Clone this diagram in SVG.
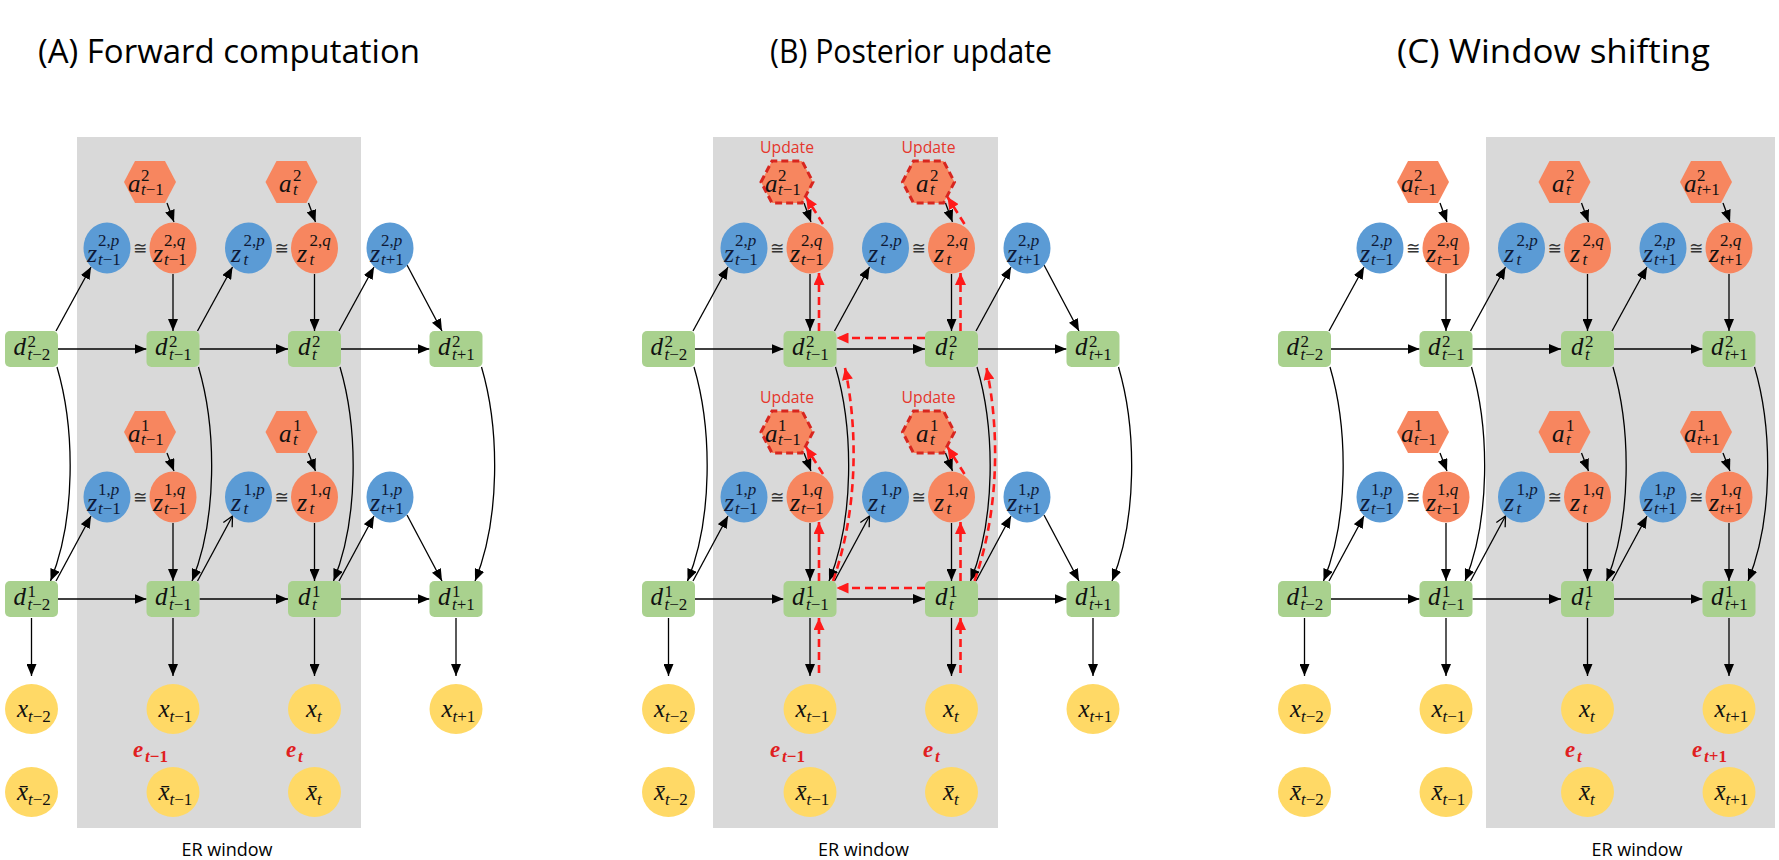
<svg xmlns="http://www.w3.org/2000/svg" xmlns:xlink="http://www.w3.org/1999/xlink" width="1779" height="860" viewBox="0 0 1779 860">
<style>
.gw{fill:#d9d9d9}
.dn{fill:#a9d18e}
.zp{fill:#5b9bd5}
.or{fill:#f7865f}
.xn{fill:#ffd966}
.hd{fill:#f7865f;stroke:#d8261f;stroke-width:3;stroke-dasharray:7 4}
.ln{stroke:#000;stroke-width:1.3;fill:none;marker-end:url(#ah)}
.lo{stroke:#000;stroke-width:1.3;fill:none;marker-end:url(#ao)}
.rd{stroke:#ff1a1a;stroke-width:2.6;stroke-dasharray:8 5;fill:none;marker-end:url(#ar)}
.t{font-family:"Liberation Serif",serif;font-style:italic;font-size:25px;fill:#111}
.zt{font-size:26px}
.zb{fill:#0e1a38}
.s{font-size:17px}
.u{font-style:normal}
.eq{font-family:"DejaVu Sans",sans-serif;font-size:17px;fill:#333;text-anchor:middle}
.ti{font-family:"Open Sans",sans-serif;font-size:33px;fill:#000}
.er{font-family:"Open Sans",sans-serif;font-size:18px;fill:#000;text-anchor:middle}
.up{font-family:"Open Sans",sans-serif;font-size:17px;fill:#e5362c;text-anchor:middle}
.e{font-family:"Liberation Serif",serif;font-style:italic;font-weight:bold;font-size:23px;fill:#e0201f}
</style>
<defs>
<marker id="ah" viewBox="0 0 12 10" refX="12" refY="5" markerWidth="12" markerHeight="10" markerUnits="userSpaceOnUse" orient="auto"><path d="M0,0 L12,5 L0,10 z" fill="#000"/></marker>
<marker id="ao" viewBox="0 0 12 12" refX="11" refY="6" markerWidth="12" markerHeight="12" markerUnits="userSpaceOnUse" orient="auto"><path d="M1,1 L11,6 L1,11" fill="none" stroke="#000" stroke-width="1.3"/></marker>
<marker id="ar" viewBox="0 0 12 11" refX="12" refY="5.5" markerWidth="12" markerHeight="11" markerUnits="userSpaceOnUse" orient="auto"><path d="M0,0 L12,5.5 L0,11 z" fill="#ff1a1a"/></marker>
<polygon id="hex" points="-26,0 -15,-21 15,-21 26,0 15,21 -15,21"/>
</defs>
<rect width="1779" height="860" fill="#fff"/>

<!-- ================= PANEL A ================= -->
<g id="panelA">
<rect class="gw" x="77" y="137" width="284" height="691"/>
<text class="ti" x="38" y="63" textLength="382" lengthAdjust="spacingAndGlyphs">(A) Forward computation</text>
<text class="er" x="227" y="856" textLength="91" lengthAdjust="spacingAndGlyphs">ER window</text>
<g id="A-connectors">
<line class="ln" x1="167" y1="203" x2="174" y2="222"/>
<line class="ln" x1="308.5" y1="203" x2="315.5" y2="222"/>
<line class="ln" x1="173" y1="274" x2="173" y2="331"/>
<line class="ln" x1="314.5" y1="274" x2="314.5" y2="331"/>
<line class="ln" x1="56" y1="331" x2="91" y2="267"/>
<line class="ln" x1="197.5" y1="331" x2="232.5" y2="267"/>
<line class="ln" x1="339" y1="331" x2="374" y2="267"/>
<line class="ln" x1="407" y1="265" x2="442" y2="331"/>
<line class="ln" x1="58" y1="349" x2="146.5" y2="349"/>
<line class="ln" x1="199.5" y1="349" x2="288" y2="349"/>
<line class="ln" x1="341" y1="349" x2="429.5" y2="349"/>
<path class="ln" d="M57,367 C75.5,430 75.5,520 50.5,581"/>
<path class="ln" d="M198.5,367 C217,430 217,520 192,581"/>
<path class="ln" d="M340,367 C358.5,430 358.5,520 333.5,581"/>
<path class="ln" d="M481.5,367 C500,430 500,520 475,581"/>
<line class="ln" x1="167" y1="453" x2="174" y2="471"/>
<line class="ln" x1="308.5" y1="453" x2="315.5" y2="471"/>
<line class="ln" x1="173" y1="523" x2="173" y2="581"/>
<line class="ln" x1="314.5" y1="523" x2="314.5" y2="581"/>
<line class="ln" x1="56" y1="581" x2="91" y2="516"/>
<line class="lo" x1="197.5" y1="581" x2="232.5" y2="516"/>
<line class="ln" x1="339" y1="581" x2="374" y2="516"/>
<line class="ln" x1="407" y1="515" x2="442" y2="581"/>
<line class="ln" x1="58" y1="599" x2="146.5" y2="599"/>
<line class="ln" x1="199.5" y1="599" x2="288" y2="599"/>
<line class="ln" x1="341" y1="599" x2="429.5" y2="599"/>
<line class="ln" x1="31.5" y1="618" x2="31.5" y2="676"/>
<line class="ln" x1="173" y1="618" x2="173" y2="676"/>
<line class="ln" x1="314.5" y1="618" x2="314.5" y2="676"/>
<line class="ln" x1="456" y1="618" x2="456" y2="676"/>
</g>
<g id="A-a2-tm1"><use href="#hex" x="150" y="182" class="or"/><text class="t" x="128" y="192">a<tspan class="s u" x="141" y="181">2</tspan><tspan class="s" x="141" y="195">t<tspan class="u">−1</tspan></tspan></text></g>
<g id="A-a2-t"><use href="#hex" x="291.5" y="182" class="or"/><text class="t" x="279" y="192">a<tspan class="s u" x="293" y="181">2</tspan><tspan class="s" x="293" y="195">t</tspan></text></g>
<g id="A-z2p-tm1"><ellipse class="zp" cx="107" cy="248" rx="23.5" ry="25.5"/><text class="t zt zb" x="87" y="262">z<tspan class="s u" x="98" y="246">2,<tspan font-style="italic">p</tspan></tspan><tspan class="s" x="98" y="265">t<tspan class="u">−1</tspan></tspan></text></g>
<g id="A-z2q-tm1"><ellipse class="or" cx="173" cy="248" rx="23.5" ry="25.5"/><text class="t zt" x="153" y="262">z<tspan class="s u" x="164" y="246">2,<tspan font-style="italic">q</tspan></tspan><tspan class="s" x="164" y="265">t<tspan class="u">−1</tspan></tspan></text></g>
<text class="eq" x="140" y="254">≅</text>
<g id="A-z2p-t"><ellipse class="zp" cx="248.5" cy="248" rx="23.5" ry="25.5"/><text class="t zt zb" x="231" y="262">z<tspan class="s u" x="243.5" y="246">2,<tspan font-style="italic">p</tspan></tspan><tspan class="s" x="243.5" y="265">t</tspan></text></g>
<g id="A-z2q-t"><ellipse class="or" cx="314.5" cy="248" rx="23.5" ry="25.5"/><text class="t zt" x="297" y="262">z<tspan class="s u" x="309.5" y="246">2,<tspan font-style="italic">q</tspan></tspan><tspan class="s" x="309.5" y="265">t</tspan></text></g>
<text class="eq" x="281.5" y="254">≅</text>
<g id="A-z2p-tp1"><ellipse class="zp" cx="390" cy="248" rx="23.5" ry="25.5"/><text class="t zt zb" x="370" y="262">z<tspan class="s u" x="381" y="246">2,<tspan font-style="italic">p</tspan></tspan><tspan class="s" x="381" y="265">t<tspan class="u">+1</tspan></tspan></text></g>
<g id="A-d2-tm2"><rect class="dn" x="5" y="331" width="53" height="36" rx="5"/><text class="t" x="13.5" y="355">d<tspan class="s u" x="27.5" y="347">2</tspan><tspan class="s" x="27.5" y="360">t<tspan class="u">−2</tspan></tspan></text></g>
<g id="A-d2-tm1"><rect class="dn" x="146.5" y="331" width="53" height="36" rx="5"/><text class="t" x="155" y="355">d<tspan class="s u" x="169" y="347">2</tspan><tspan class="s" x="169" y="360">t<tspan class="u">−1</tspan></tspan></text></g>
<g id="A-d2-t"><rect class="dn" x="288" y="331" width="53" height="36" rx="5"/><text class="t" x="298" y="355">d<tspan class="s u" x="312" y="347">2</tspan><tspan class="s" x="312" y="360">t</tspan></text></g>
<g id="A-d2-tp1"><rect class="dn" x="429.5" y="331" width="53" height="36" rx="5"/><text class="t" x="438" y="355">d<tspan class="s u" x="452" y="347">2</tspan><tspan class="s" x="452" y="360">t<tspan class="u">+1</tspan></tspan></text></g>
<g id="A-a1-tm1"><use href="#hex" x="150" y="432" class="or"/><text class="t" x="128" y="442">a<tspan class="s u" x="141" y="431">1</tspan><tspan class="s" x="141" y="445">t<tspan class="u">−1</tspan></tspan></text></g>
<g id="A-a1-t"><use href="#hex" x="291.5" y="432" class="or"/><text class="t" x="279" y="442">a<tspan class="s u" x="293" y="431">1</tspan><tspan class="s" x="293" y="445">t</tspan></text></g>
<g id="A-z1p-tm1"><ellipse class="zp" cx="107" cy="497" rx="23.5" ry="25.5"/><text class="t zt zb" x="87" y="511">z<tspan class="s u" x="98" y="495">1,<tspan font-style="italic">p</tspan></tspan><tspan class="s" x="98" y="514">t<tspan class="u">−1</tspan></tspan></text></g>
<g id="A-z1q-tm1"><ellipse class="or" cx="173" cy="497" rx="23.5" ry="25.5"/><text class="t zt" x="153" y="511">z<tspan class="s u" x="164" y="495">1,<tspan font-style="italic">q</tspan></tspan><tspan class="s" x="164" y="514">t<tspan class="u">−1</tspan></tspan></text></g>
<text class="eq" x="140" y="503">≅</text>
<g id="A-z1p-t"><ellipse class="zp" cx="248.5" cy="497" rx="23.5" ry="25.5"/><text class="t zt zb" x="231" y="511">z<tspan class="s u" x="243.5" y="495">1,<tspan font-style="italic">p</tspan></tspan><tspan class="s" x="243.5" y="514">t</tspan></text></g>
<g id="A-z1q-t"><ellipse class="or" cx="314.5" cy="497" rx="23.5" ry="25.5"/><text class="t zt" x="297" y="511">z<tspan class="s u" x="309.5" y="495">1,<tspan font-style="italic">q</tspan></tspan><tspan class="s" x="309.5" y="514">t</tspan></text></g>
<text class="eq" x="281.5" y="503">≅</text>
<g id="A-z1p-tp1"><ellipse class="zp" cx="390" cy="497" rx="23.5" ry="25.5"/><text class="t zt zb" x="370" y="511">z<tspan class="s u" x="381" y="495">1,<tspan font-style="italic">p</tspan></tspan><tspan class="s" x="381" y="514">t<tspan class="u">+1</tspan></tspan></text></g>
<g id="A-d1-tm2"><rect class="dn" x="5" y="581" width="53" height="36" rx="5"/><text class="t" x="13.5" y="605">d<tspan class="s u" x="27.5" y="597">1</tspan><tspan class="s" x="27.5" y="610">t<tspan class="u">−2</tspan></tspan></text></g>
<g id="A-d1-tm1"><rect class="dn" x="146.5" y="581" width="53" height="36" rx="5"/><text class="t" x="155" y="605">d<tspan class="s u" x="169" y="597">1</tspan><tspan class="s" x="169" y="610">t<tspan class="u">−1</tspan></tspan></text></g>
<g id="A-d1-t"><rect class="dn" x="288" y="581" width="53" height="36" rx="5"/><text class="t" x="298" y="605">d<tspan class="s u" x="312" y="597">1</tspan><tspan class="s" x="312" y="610">t</tspan></text></g>
<g id="A-d1-tp1"><rect class="dn" x="429.5" y="581" width="53" height="36" rx="5"/><text class="t" x="438" y="605">d<tspan class="s u" x="452" y="597">1</tspan><tspan class="s" x="452" y="610">t<tspan class="u">+1</tspan></tspan></text></g>
<g id="A-x-tm2"><ellipse class="xn" cx="31.5" cy="709" rx="26.5" ry="25"/><text class="t" x="17" y="717">x<tspan class="s" x="28" y="722">t<tspan class="u">−2</tspan></tspan></text></g>
<g id="A-x-tm1"><ellipse class="xn" cx="173" cy="709" rx="26.5" ry="25"/><text class="t" x="158.5" y="717">x<tspan class="s" x="169.5" y="722">t<tspan class="u">−1</tspan></tspan></text></g>
<g id="A-x-t"><ellipse class="xn" cx="314.5" cy="709" rx="26.5" ry="25"/><text class="t" x="306" y="717">x<tspan class="s" x="317" y="722">t</tspan></text></g>
<g id="A-x-tp1"><ellipse class="xn" cx="456" cy="709" rx="26.5" ry="25"/><text class="t" x="441.5" y="717">x<tspan class="s" x="452.5" y="722">t<tspan class="u">+1</tspan></tspan></text></g>
<g id="A-xb-tm2"><ellipse class="xn" cx="31.5" cy="792" rx="26.5" ry="25"/><text class="t" x="17" y="800">x̄<tspan class="s" x="28" y="805">t<tspan class="u">−2</tspan></tspan></text></g>
<g id="A-xb-tm1"><ellipse class="xn" cx="173" cy="792" rx="26.5" ry="25"/><text class="t" x="158.5" y="800">x̄<tspan class="s" x="169.5" y="805">t<tspan class="u">−1</tspan></tspan></text></g>
<g id="A-xb-t"><ellipse class="xn" cx="314.5" cy="792" rx="26.5" ry="25"/><text class="t" x="306" y="800">x̄<tspan class="s" x="317" y="805">t</tspan></text></g>
<g id="A-e-tm1"><text class="e" x="133" y="757">e<tspan class="s" x="145" y="762">t<tspan class="u">−1</tspan></tspan></text></g>
<g id="A-e-t"><text class="e" x="286" y="757">e<tspan class="s" x="298" y="762">t</tspan></text></g>
</g>

<!-- ================= PANEL B ================= -->
<g id="panelB" transform="translate(637,0)">
<rect class="gw" x="76" y="137" width="285" height="691"/>
<text class="ti" x="133" y="63" textLength="282" lengthAdjust="spacingAndGlyphs">(B) Posterior update</text>
<text class="er" x="226.5" y="856" textLength="91" lengthAdjust="spacingAndGlyphs">ER window</text>
<g id="B-connectors">
<line class="ln" x1="167" y1="203" x2="174" y2="222"/>
<line class="ln" x1="308.5" y1="203" x2="315.5" y2="222"/>
<line class="ln" x1="173" y1="274" x2="173" y2="331"/>
<line class="ln" x1="314.5" y1="274" x2="314.5" y2="331"/>
<line class="ln" x1="56" y1="331" x2="91" y2="267"/>
<line class="ln" x1="197.5" y1="331" x2="232.5" y2="267"/>
<line class="ln" x1="339" y1="331" x2="374" y2="267"/>
<line class="ln" x1="407" y1="265" x2="442" y2="331"/>
<line class="ln" x1="58" y1="349" x2="146.5" y2="349"/>
<line class="ln" x1="199.5" y1="349" x2="288" y2="349"/>
<line class="ln" x1="341" y1="349" x2="429.5" y2="349"/>
<path class="ln" d="M57,367 C75.5,430 75.5,520 50.5,581"/>
<path class="ln" d="M198.5,367 C217,430 217,520 192,581"/>
<path class="ln" d="M340,367 C358.5,430 358.5,520 333.5,581"/>
<path class="ln" d="M481.5,367 C500,430 500,520 475,581"/>
<line class="ln" x1="167" y1="453" x2="174" y2="471"/>
<line class="ln" x1="308.5" y1="453" x2="315.5" y2="471"/>
<line class="ln" x1="173" y1="523" x2="173" y2="581"/>
<line class="ln" x1="314.5" y1="523" x2="314.5" y2="581"/>
<line class="ln" x1="56" y1="581" x2="91" y2="516"/>
<line class="lo" x1="197.5" y1="581" x2="232.5" y2="516"/>
<line class="ln" x1="339" y1="581" x2="374" y2="516"/>
<line class="ln" x1="407" y1="515" x2="442" y2="581"/>
<line class="ln" x1="58" y1="599" x2="146.5" y2="599"/>
<line class="ln" x1="199.5" y1="599" x2="288" y2="599"/>
<line class="ln" x1="341" y1="599" x2="429.5" y2="599"/>
<line class="ln" x1="31.5" y1="618" x2="31.5" y2="676"/>
<line class="ln" x1="173" y1="618" x2="173" y2="676"/>
<line class="ln" x1="314.5" y1="618" x2="314.5" y2="676"/>
<line class="ln" x1="456" y1="618" x2="456" y2="676"/>
<line class="rd" x1="186" y1="224" x2="169" y2="197"/>
<line class="rd" x1="327.5" y1="224" x2="310.5" y2="197"/>
<line class="rd" x1="182" y1="331" x2="182" y2="273"/>
<line class="rd" x1="323.5" y1="331" x2="323.5" y2="273"/>
<line class="rd" x1="288" y1="338" x2="199.5" y2="338"/>
<path class="rd" d="M196,581 C221,510 221,430 208,368"/>
<path class="rd" d="M337.5,581 C362.5,510 362.5,430 349.5,368"/>
<line class="rd" x1="186" y1="474" x2="169" y2="447"/>
<line class="rd" x1="327.5" y1="474" x2="310.5" y2="447"/>
<line class="rd" x1="182" y1="581" x2="182" y2="522"/>
<line class="rd" x1="323.5" y1="581" x2="323.5" y2="522"/>
<line class="rd" x1="288" y1="588" x2="199.5" y2="588"/>
<line class="rd" x1="182" y1="673" x2="182" y2="618"/>
<line class="rd" x1="323.5" y1="673" x2="323.5" y2="618"/>
</g>
<g id="B-a2-tm1"><text class="up" x="150" y="153" textLength="54" lengthAdjust="spacingAndGlyphs">Update</text><use href="#hex" x="150" y="182" class="hd"/><text class="t" x="128" y="192">a<tspan class="s u" x="141" y="181">2</tspan><tspan class="s" x="141" y="195">t<tspan class="u">−1</tspan></tspan></text></g>
<g id="B-a2-t"><text class="up" x="291.5" y="153" textLength="54" lengthAdjust="spacingAndGlyphs">Update</text><use href="#hex" x="291.5" y="182" class="hd"/><text class="t" x="279" y="192">a<tspan class="s u" x="293" y="181">2</tspan><tspan class="s" x="293" y="195">t</tspan></text></g>
<g id="B-z2p-tm1"><ellipse class="zp" cx="107" cy="248" rx="23.5" ry="25.5"/><text class="t zt zb" x="87" y="262">z<tspan class="s u" x="98" y="246">2,<tspan font-style="italic">p</tspan></tspan><tspan class="s" x="98" y="265">t<tspan class="u">−1</tspan></tspan></text></g>
<g id="B-z2q-tm1"><ellipse class="or" cx="173" cy="248" rx="23.5" ry="25.5"/><text class="t zt" x="153" y="262">z<tspan class="s u" x="164" y="246">2,<tspan font-style="italic">q</tspan></tspan><tspan class="s" x="164" y="265">t<tspan class="u">−1</tspan></tspan></text></g>
<text class="eq" x="140" y="254">≅</text>
<g id="B-z2p-t"><ellipse class="zp" cx="248.5" cy="248" rx="23.5" ry="25.5"/><text class="t zt zb" x="231" y="262">z<tspan class="s u" x="243.5" y="246">2,<tspan font-style="italic">p</tspan></tspan><tspan class="s" x="243.5" y="265">t</tspan></text></g>
<g id="B-z2q-t"><ellipse class="or" cx="314.5" cy="248" rx="23.5" ry="25.5"/><text class="t zt" x="297" y="262">z<tspan class="s u" x="309.5" y="246">2,<tspan font-style="italic">q</tspan></tspan><tspan class="s" x="309.5" y="265">t</tspan></text></g>
<text class="eq" x="281.5" y="254">≅</text>
<g id="B-z2p-tp1"><ellipse class="zp" cx="390" cy="248" rx="23.5" ry="25.5"/><text class="t zt zb" x="370" y="262">z<tspan class="s u" x="381" y="246">2,<tspan font-style="italic">p</tspan></tspan><tspan class="s" x="381" y="265">t<tspan class="u">+1</tspan></tspan></text></g>
<g id="B-d2-tm2"><rect class="dn" x="5" y="331" width="53" height="36" rx="5"/><text class="t" x="13.5" y="355">d<tspan class="s u" x="27.5" y="347">2</tspan><tspan class="s" x="27.5" y="360">t<tspan class="u">−2</tspan></tspan></text></g>
<g id="B-d2-tm1"><rect class="dn" x="146.5" y="331" width="53" height="36" rx="5"/><text class="t" x="155" y="355">d<tspan class="s u" x="169" y="347">2</tspan><tspan class="s" x="169" y="360">t<tspan class="u">−1</tspan></tspan></text></g>
<g id="B-d2-t"><rect class="dn" x="288" y="331" width="53" height="36" rx="5"/><text class="t" x="298" y="355">d<tspan class="s u" x="312" y="347">2</tspan><tspan class="s" x="312" y="360">t</tspan></text></g>
<g id="B-d2-tp1"><rect class="dn" x="429.5" y="331" width="53" height="36" rx="5"/><text class="t" x="438" y="355">d<tspan class="s u" x="452" y="347">2</tspan><tspan class="s" x="452" y="360">t<tspan class="u">+1</tspan></tspan></text></g>
<g id="B-a1-tm1"><text class="up" x="150" y="403" textLength="54" lengthAdjust="spacingAndGlyphs">Update</text><use href="#hex" x="150" y="432" class="hd"/><text class="t" x="128" y="442">a<tspan class="s u" x="141" y="431">1</tspan><tspan class="s" x="141" y="445">t<tspan class="u">−1</tspan></tspan></text></g>
<g id="B-a1-t"><text class="up" x="291.5" y="403" textLength="54" lengthAdjust="spacingAndGlyphs">Update</text><use href="#hex" x="291.5" y="432" class="hd"/><text class="t" x="279" y="442">a<tspan class="s u" x="293" y="431">1</tspan><tspan class="s" x="293" y="445">t</tspan></text></g>
<g id="B-z1p-tm1"><ellipse class="zp" cx="107" cy="497" rx="23.5" ry="25.5"/><text class="t zt zb" x="87" y="511">z<tspan class="s u" x="98" y="495">1,<tspan font-style="italic">p</tspan></tspan><tspan class="s" x="98" y="514">t<tspan class="u">−1</tspan></tspan></text></g>
<g id="B-z1q-tm1"><ellipse class="or" cx="173" cy="497" rx="23.5" ry="25.5"/><text class="t zt" x="153" y="511">z<tspan class="s u" x="164" y="495">1,<tspan font-style="italic">q</tspan></tspan><tspan class="s" x="164" y="514">t<tspan class="u">−1</tspan></tspan></text></g>
<text class="eq" x="140" y="503">≅</text>
<g id="B-z1p-t"><ellipse class="zp" cx="248.5" cy="497" rx="23.5" ry="25.5"/><text class="t zt zb" x="231" y="511">z<tspan class="s u" x="243.5" y="495">1,<tspan font-style="italic">p</tspan></tspan><tspan class="s" x="243.5" y="514">t</tspan></text></g>
<g id="B-z1q-t"><ellipse class="or" cx="314.5" cy="497" rx="23.5" ry="25.5"/><text class="t zt" x="297" y="511">z<tspan class="s u" x="309.5" y="495">1,<tspan font-style="italic">q</tspan></tspan><tspan class="s" x="309.5" y="514">t</tspan></text></g>
<text class="eq" x="281.5" y="503">≅</text>
<g id="B-z1p-tp1"><ellipse class="zp" cx="390" cy="497" rx="23.5" ry="25.5"/><text class="t zt zb" x="370" y="511">z<tspan class="s u" x="381" y="495">1,<tspan font-style="italic">p</tspan></tspan><tspan class="s" x="381" y="514">t<tspan class="u">+1</tspan></tspan></text></g>
<g id="B-d1-tm2"><rect class="dn" x="5" y="581" width="53" height="36" rx="5"/><text class="t" x="13.5" y="605">d<tspan class="s u" x="27.5" y="597">1</tspan><tspan class="s" x="27.5" y="610">t<tspan class="u">−2</tspan></tspan></text></g>
<g id="B-d1-tm1"><rect class="dn" x="146.5" y="581" width="53" height="36" rx="5"/><text class="t" x="155" y="605">d<tspan class="s u" x="169" y="597">1</tspan><tspan class="s" x="169" y="610">t<tspan class="u">−1</tspan></tspan></text></g>
<g id="B-d1-t"><rect class="dn" x="288" y="581" width="53" height="36" rx="5"/><text class="t" x="298" y="605">d<tspan class="s u" x="312" y="597">1</tspan><tspan class="s" x="312" y="610">t</tspan></text></g>
<g id="B-d1-tp1"><rect class="dn" x="429.5" y="581" width="53" height="36" rx="5"/><text class="t" x="438" y="605">d<tspan class="s u" x="452" y="597">1</tspan><tspan class="s" x="452" y="610">t<tspan class="u">+1</tspan></tspan></text></g>
<g id="B-x-tm2"><ellipse class="xn" cx="31.5" cy="709" rx="26.5" ry="25"/><text class="t" x="17" y="717">x<tspan class="s" x="28" y="722">t<tspan class="u">−2</tspan></tspan></text></g>
<g id="B-x-tm1"><ellipse class="xn" cx="173" cy="709" rx="26.5" ry="25"/><text class="t" x="158.5" y="717">x<tspan class="s" x="169.5" y="722">t<tspan class="u">−1</tspan></tspan></text></g>
<g id="B-x-t"><ellipse class="xn" cx="314.5" cy="709" rx="26.5" ry="25"/><text class="t" x="306" y="717">x<tspan class="s" x="317" y="722">t</tspan></text></g>
<g id="B-x-tp1"><ellipse class="xn" cx="456" cy="709" rx="26.5" ry="25"/><text class="t" x="441.5" y="717">x<tspan class="s" x="452.5" y="722">t<tspan class="u">+1</tspan></tspan></text></g>
<g id="B-xb-tm2"><ellipse class="xn" cx="31.5" cy="792" rx="26.5" ry="25"/><text class="t" x="17" y="800">x̄<tspan class="s" x="28" y="805">t<tspan class="u">−2</tspan></tspan></text></g>
<g id="B-xb-tm1"><ellipse class="xn" cx="173" cy="792" rx="26.5" ry="25"/><text class="t" x="158.5" y="800">x̄<tspan class="s" x="169.5" y="805">t<tspan class="u">−1</tspan></tspan></text></g>
<g id="B-xb-t"><ellipse class="xn" cx="314.5" cy="792" rx="26.5" ry="25"/><text class="t" x="306" y="800">x̄<tspan class="s" x="317" y="805">t</tspan></text></g>
<g id="B-e-tm1"><text class="e" x="133" y="757">e<tspan class="s" x="145" y="762">t<tspan class="u">−1</tspan></tspan></text></g>
<g id="B-e-t"><text class="e" x="286" y="757">e<tspan class="s" x="298" y="762">t</tspan></text></g>
</g>

<!-- ================= PANEL C ================= -->
<g id="panelC" transform="translate(1273,0)">
<rect class="gw" x="213" y="137" width="289" height="691"/>
<text class="ti" x="124" y="63" textLength="313" lengthAdjust="spacingAndGlyphs">(C) Window shifting</text>
<text class="er" x="364" y="856" textLength="91" lengthAdjust="spacingAndGlyphs">ER window</text>
<g id="C-connectors">
<line class="ln" x1="167" y1="203" x2="174" y2="222"/>
<line class="ln" x1="308.5" y1="203" x2="315.5" y2="222"/>
<line class="ln" x1="450" y1="203" x2="457" y2="222"/>
<line class="ln" x1="173" y1="274" x2="173" y2="331"/>
<line class="ln" x1="314.5" y1="274" x2="314.5" y2="331"/>
<line class="ln" x1="456" y1="274" x2="456" y2="331"/>
<line class="ln" x1="56" y1="331" x2="91" y2="267"/>
<line class="ln" x1="197.5" y1="331" x2="232.5" y2="267"/>
<line class="ln" x1="339" y1="331" x2="374" y2="267"/>
<line class="ln" x1="58" y1="349" x2="146.5" y2="349"/>
<line class="ln" x1="199.5" y1="349" x2="288" y2="349"/>
<line class="ln" x1="341" y1="349" x2="429.5" y2="349"/>
<path class="ln" d="M57,367 C75.5,430 75.5,520 50.5,581"/>
<path class="ln" d="M198.5,367 C217,430 217,520 192,581"/>
<path class="ln" d="M340,367 C358.5,430 358.5,520 333.5,581"/>
<path class="ln" d="M481.5,367 C500,430 500,520 475,581"/>
<line class="ln" x1="167" y1="453" x2="174" y2="471"/>
<line class="ln" x1="308.5" y1="453" x2="315.5" y2="471"/>
<line class="ln" x1="450" y1="453" x2="457" y2="471"/>
<line class="ln" x1="173" y1="523" x2="173" y2="581"/>
<line class="ln" x1="314.5" y1="523" x2="314.5" y2="581"/>
<line class="ln" x1="456" y1="523" x2="456" y2="581"/>
<line class="ln" x1="56" y1="581" x2="91" y2="516"/>
<line class="lo" x1="197.5" y1="581" x2="232.5" y2="516"/>
<line class="ln" x1="339" y1="581" x2="374" y2="516"/>
<line class="ln" x1="58" y1="599" x2="146.5" y2="599"/>
<line class="ln" x1="199.5" y1="599" x2="288" y2="599"/>
<line class="ln" x1="341" y1="599" x2="429.5" y2="599"/>
<line class="ln" x1="31.5" y1="618" x2="31.5" y2="676"/>
<line class="ln" x1="173" y1="618" x2="173" y2="676"/>
<line class="ln" x1="314.5" y1="618" x2="314.5" y2="676"/>
<line class="ln" x1="456" y1="618" x2="456" y2="676"/>
</g>
<g id="C-a2-tm1"><use href="#hex" x="150" y="182" class="or"/><text class="t" x="128" y="192">a<tspan class="s u" x="141" y="181">2</tspan><tspan class="s" x="141" y="195">t<tspan class="u">−1</tspan></tspan></text></g>
<g id="C-a2-t"><use href="#hex" x="291.5" y="182" class="or"/><text class="t" x="279" y="192">a<tspan class="s u" x="293" y="181">2</tspan><tspan class="s" x="293" y="195">t</tspan></text></g>
<g id="C-a2-tp1"><use href="#hex" x="433" y="182" class="or"/><text class="t" x="411" y="192">a<tspan class="s u" x="424" y="181">2</tspan><tspan class="s" x="424" y="195">t<tspan class="u">+1</tspan></tspan></text></g>
<g id="C-z2p-tm1"><ellipse class="zp" cx="107" cy="248" rx="23.5" ry="25.5"/><text class="t zt zb" x="87" y="262">z<tspan class="s u" x="98" y="246">2,<tspan font-style="italic">p</tspan></tspan><tspan class="s" x="98" y="265">t<tspan class="u">−1</tspan></tspan></text></g>
<g id="C-z2q-tm1"><ellipse class="or" cx="173" cy="248" rx="23.5" ry="25.5"/><text class="t zt" x="153" y="262">z<tspan class="s u" x="164" y="246">2,<tspan font-style="italic">q</tspan></tspan><tspan class="s" x="164" y="265">t<tspan class="u">−1</tspan></tspan></text></g>
<text class="eq" x="140" y="254">≅</text>
<g id="C-z2p-t"><ellipse class="zp" cx="248.5" cy="248" rx="23.5" ry="25.5"/><text class="t zt zb" x="231" y="262">z<tspan class="s u" x="243.5" y="246">2,<tspan font-style="italic">p</tspan></tspan><tspan class="s" x="243.5" y="265">t</tspan></text></g>
<g id="C-z2q-t"><ellipse class="or" cx="314.5" cy="248" rx="23.5" ry="25.5"/><text class="t zt" x="297" y="262">z<tspan class="s u" x="309.5" y="246">2,<tspan font-style="italic">q</tspan></tspan><tspan class="s" x="309.5" y="265">t</tspan></text></g>
<text class="eq" x="281.5" y="254">≅</text>
<g id="C-z2p-tp1"><ellipse class="zp" cx="390" cy="248" rx="23.5" ry="25.5"/><text class="t zt zb" x="370" y="262">z<tspan class="s u" x="381" y="246">2,<tspan font-style="italic">p</tspan></tspan><tspan class="s" x="381" y="265">t<tspan class="u">+1</tspan></tspan></text></g>
<g id="C-z2q-tp1"><ellipse class="or" cx="456" cy="248" rx="23.5" ry="25.5"/><text class="t zt" x="436" y="262">z<tspan class="s u" x="447" y="246">2,<tspan font-style="italic">q</tspan></tspan><tspan class="s" x="447" y="265">t<tspan class="u">+1</tspan></tspan></text></g>
<text class="eq" x="423" y="254">≅</text>
<g id="C-d2-tm2"><rect class="dn" x="5" y="331" width="53" height="36" rx="5"/><text class="t" x="13.5" y="355">d<tspan class="s u" x="27.5" y="347">2</tspan><tspan class="s" x="27.5" y="360">t<tspan class="u">−2</tspan></tspan></text></g>
<g id="C-d2-tm1"><rect class="dn" x="146.5" y="331" width="53" height="36" rx="5"/><text class="t" x="155" y="355">d<tspan class="s u" x="169" y="347">2</tspan><tspan class="s" x="169" y="360">t<tspan class="u">−1</tspan></tspan></text></g>
<g id="C-d2-t"><rect class="dn" x="288" y="331" width="53" height="36" rx="5"/><text class="t" x="298" y="355">d<tspan class="s u" x="312" y="347">2</tspan><tspan class="s" x="312" y="360">t</tspan></text></g>
<g id="C-d2-tp1"><rect class="dn" x="429.5" y="331" width="53" height="36" rx="5"/><text class="t" x="438" y="355">d<tspan class="s u" x="452" y="347">2</tspan><tspan class="s" x="452" y="360">t<tspan class="u">+1</tspan></tspan></text></g>
<g id="C-a1-tm1"><use href="#hex" x="150" y="432" class="or"/><text class="t" x="128" y="442">a<tspan class="s u" x="141" y="431">1</tspan><tspan class="s" x="141" y="445">t<tspan class="u">−1</tspan></tspan></text></g>
<g id="C-a1-t"><use href="#hex" x="291.5" y="432" class="or"/><text class="t" x="279" y="442">a<tspan class="s u" x="293" y="431">1</tspan><tspan class="s" x="293" y="445">t</tspan></text></g>
<g id="C-a1-tp1"><use href="#hex" x="433" y="432" class="or"/><text class="t" x="411" y="442">a<tspan class="s u" x="424" y="431">1</tspan><tspan class="s" x="424" y="445">t<tspan class="u">+1</tspan></tspan></text></g>
<g id="C-z1p-tm1"><ellipse class="zp" cx="107" cy="497" rx="23.5" ry="25.5"/><text class="t zt zb" x="87" y="511">z<tspan class="s u" x="98" y="495">1,<tspan font-style="italic">p</tspan></tspan><tspan class="s" x="98" y="514">t<tspan class="u">−1</tspan></tspan></text></g>
<g id="C-z1q-tm1"><ellipse class="or" cx="173" cy="497" rx="23.5" ry="25.5"/><text class="t zt" x="153" y="511">z<tspan class="s u" x="164" y="495">1,<tspan font-style="italic">q</tspan></tspan><tspan class="s" x="164" y="514">t<tspan class="u">−1</tspan></tspan></text></g>
<text class="eq" x="140" y="503">≅</text>
<g id="C-z1p-t"><ellipse class="zp" cx="248.5" cy="497" rx="23.5" ry="25.5"/><text class="t zt zb" x="231" y="511">z<tspan class="s u" x="243.5" y="495">1,<tspan font-style="italic">p</tspan></tspan><tspan class="s" x="243.5" y="514">t</tspan></text></g>
<g id="C-z1q-t"><ellipse class="or" cx="314.5" cy="497" rx="23.5" ry="25.5"/><text class="t zt" x="297" y="511">z<tspan class="s u" x="309.5" y="495">1,<tspan font-style="italic">q</tspan></tspan><tspan class="s" x="309.5" y="514">t</tspan></text></g>
<text class="eq" x="281.5" y="503">≅</text>
<g id="C-z1p-tp1"><ellipse class="zp" cx="390" cy="497" rx="23.5" ry="25.5"/><text class="t zt zb" x="370" y="511">z<tspan class="s u" x="381" y="495">1,<tspan font-style="italic">p</tspan></tspan><tspan class="s" x="381" y="514">t<tspan class="u">+1</tspan></tspan></text></g>
<g id="C-z1q-tp1"><ellipse class="or" cx="456" cy="497" rx="23.5" ry="25.5"/><text class="t zt" x="436" y="511">z<tspan class="s u" x="447" y="495">1,<tspan font-style="italic">q</tspan></tspan><tspan class="s" x="447" y="514">t<tspan class="u">+1</tspan></tspan></text></g>
<text class="eq" x="423" y="503">≅</text>
<g id="C-d1-tm2"><rect class="dn" x="5" y="581" width="53" height="36" rx="5"/><text class="t" x="13.5" y="605">d<tspan class="s u" x="27.5" y="597">1</tspan><tspan class="s" x="27.5" y="610">t<tspan class="u">−2</tspan></tspan></text></g>
<g id="C-d1-tm1"><rect class="dn" x="146.5" y="581" width="53" height="36" rx="5"/><text class="t" x="155" y="605">d<tspan class="s u" x="169" y="597">1</tspan><tspan class="s" x="169" y="610">t<tspan class="u">−1</tspan></tspan></text></g>
<g id="C-d1-t"><rect class="dn" x="288" y="581" width="53" height="36" rx="5"/><text class="t" x="298" y="605">d<tspan class="s u" x="312" y="597">1</tspan><tspan class="s" x="312" y="610">t</tspan></text></g>
<g id="C-d1-tp1"><rect class="dn" x="429.5" y="581" width="53" height="36" rx="5"/><text class="t" x="438" y="605">d<tspan class="s u" x="452" y="597">1</tspan><tspan class="s" x="452" y="610">t<tspan class="u">+1</tspan></tspan></text></g>
<g id="C-x-tm2"><ellipse class="xn" cx="31.5" cy="709" rx="26.5" ry="25"/><text class="t" x="17" y="717">x<tspan class="s" x="28" y="722">t<tspan class="u">−2</tspan></tspan></text></g>
<g id="C-x-tm1"><ellipse class="xn" cx="173" cy="709" rx="26.5" ry="25"/><text class="t" x="158.5" y="717">x<tspan class="s" x="169.5" y="722">t<tspan class="u">−1</tspan></tspan></text></g>
<g id="C-x-t"><ellipse class="xn" cx="314.5" cy="709" rx="26.5" ry="25"/><text class="t" x="306" y="717">x<tspan class="s" x="317" y="722">t</tspan></text></g>
<g id="C-x-tp1"><ellipse class="xn" cx="456" cy="709" rx="26.5" ry="25"/><text class="t" x="441.5" y="717">x<tspan class="s" x="452.5" y="722">t<tspan class="u">+1</tspan></tspan></text></g>
<g id="C-xb-tm2"><ellipse class="xn" cx="31.5" cy="792" rx="26.5" ry="25"/><text class="t" x="17" y="800">x̄<tspan class="s" x="28" y="805">t<tspan class="u">−2</tspan></tspan></text></g>
<g id="C-xb-tm1"><ellipse class="xn" cx="173" cy="792" rx="26.5" ry="25"/><text class="t" x="158.5" y="800">x̄<tspan class="s" x="169.5" y="805">t<tspan class="u">−1</tspan></tspan></text></g>
<g id="C-xb-t"><ellipse class="xn" cx="314.5" cy="792" rx="26.5" ry="25"/><text class="t" x="306" y="800">x̄<tspan class="s" x="317" y="805">t</tspan></text></g>
<g id="C-xb-tp1"><ellipse class="xn" cx="456" cy="792" rx="26.5" ry="25"/><text class="t" x="441.5" y="800">x̄<tspan class="s" x="452.5" y="805">t<tspan class="u">+1</tspan></tspan></text></g>
<g id="C-e-t"><text class="e" x="292" y="757">e<tspan class="s" x="304" y="762">t</tspan></text></g>
<g id="C-e-tp1"><text class="e" x="419" y="757">e<tspan class="s" x="431" y="762">t<tspan class="u">+1</tspan></tspan></text></g>
</g>
</svg>
